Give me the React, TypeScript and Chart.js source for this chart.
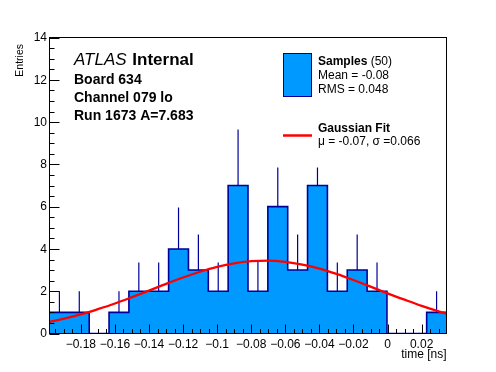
import React, { useEffect, useRef } from "react";
import { Chart, registerables } from "chart.js";

Chart.register(...registerables);

// ---- data ----
const xMin = -0.1984;
const xMax = 0.0346;
const binCounts = [1, 1, 0, 1, 2, 2, 4, 3, 2, 7, 2, 6, 3, 7, 2, 3, 2, 0, 0, 1];
const errUpper = [2, 2, 0, 2, 3.36, 3.36, 5.96, 4.68, 3.36, 9.65, 3.39, 7.85, 4.68, 7.85, 3.36, 4.68, 3.36, 0, 0, 2];
const fitX = [-0.1984, -0.19, -0.18, -0.17, -0.16, -0.15, -0.14, -0.13, -0.12, -0.11, -0.1, -0.09, -0.08, -0.07, -0.06, -0.05, -0.04, -0.03, -0.02, -0.01, 0, 0.01, 0.02, 0.03, 0.0346];
const fitY = [0.55, 0.7, 0.9, 1.15, 1.42, 1.72, 2.03, 2.35, 2.65, 2.92, 3.15, 3.32, 3.42, 3.45, 3.39, 3.26, 3.07, 2.82, 2.53, 2.22, 1.9, 1.6, 1.31, 1.05, 0.94];
const xTickValues = [-0.18, -0.16, -0.14, -0.12, -0.1, -0.08, -0.06, -0.04, -0.02, 0, 0.02];
const xTickLabels = ["\u22120.18", "\u22120.16", "\u22120.14", "\u22120.12", "\u22120.1", "\u22120.08", "\u22120.06", "\u22120.04", "\u22120.02", "0", "0.02"];
const yTickValues = [0, 2, 4, 6, 8, 10, 12, 14];
const yTickLabels = ["0", "2", "4", "6", "8", "10", "12", "14"];
const xMinorStep = 0.005;
const yMinorStep = 0.5;
const infoLines = ["Board 634", "Channel 079 lo", "Run 1673 A=7.683"];
const statLines = ["Mean = -0.08", "RMS = 0.048"];
const fitLine = "\u03bc = -0.07, \u03c3 =0.066";

const FILL = "#0099ff";
const NAVY = "#000099";
const RED = "#ff0000";
const FONT = "'Liberation Sans', Arial, Helvetica, sans-serif";

export default function App() {
  const ref = useRef<HTMLCanvasElement | null>(null);

  useEffect(() => {
    const canvas = ref.current;
    if (!canvas) return;
    const nb = binCounts.length;
    const w = (xMax - xMin) / nb;
    const histPts: { x: number; y: number }[] = [];
    binCounts.forEach((n, i) => {
      histPts.push({ x: xMin + i * w, y: n });
      histPts.push({ x: xMin + (i + 1) * w, y: n });
    });
    const errPts: ({ x: number; y: number | null })[] = [];
    binCounts.forEach((n, i) => {
      if (n <= 0) return;
      const c = xMin + (i + 0.5) * w;
      errPts.push({ x: c, y: n });
      errPts.push({ x: c, y: errUpper[i] });
      errPts.push({ x: c, y: null });
    });
    const fitPts = fitX.map((x, i) => ({ x, y: fitY[i] }));

    const decor = {
      id: "rootDecor",
      afterDraw(chart: any) {
        const ctx = chart.ctx as CanvasRenderingContext2D;
        const ca = chart.chartArea;
        const xs = chart.scales.x;
        const ys = chart.scales.y;
        ctx.save();
        // frame
        ctx.strokeStyle = "#000";
        ctx.lineWidth = 1;
        ctx.strokeRect(ca.left, ca.top, ca.right - ca.left, ca.bottom - ca.top);
        // y ticks
        ctx.beginPath();
        const nY = Math.round((ys.max - ys.min) / yMinorStep);
        for (let k = 0; k <= nY; k++) {
          const v = ys.min + k * yMinorStep;
          const py = Math.round(ys.getPixelForValue(v)) + 0.5;
          const major = Math.abs(v / 2 - Math.round(v / 2)) < 1e-6;
          ctx.moveTo(ca.left, py);
          ctx.lineTo(ca.left + (major ? 10 : 5), py);
        }
        // x ticks
        const kStart = Math.ceil(xs.min / xMinorStep - 1e-6);
        const kEnd = Math.floor(xs.max / xMinorStep + 1e-6);
        for (let k = kStart; k <= kEnd; k++) {
          const v = k * xMinorStep;
          const px = Math.round(xs.getPixelForValue(v)) + 0.5;
          const major = k % 4 === 0;
          ctx.moveTo(px, ca.bottom);
          ctx.lineTo(px, ca.bottom - (major ? 9 : 4.5));
        }
        ctx.stroke();
        // tick labels
        ctx.fillStyle = "#000";
        ctx.font = `12px ${FONT}`;
        ctx.textAlign = "right";
        ctx.textBaseline = "middle";
        yTickValues.forEach((v, i) => {
          ctx.fillText(yTickLabels[i], ca.left - 2.5, ys.getPixelForValue(v) + 0.5);
        });
        ctx.textAlign = "center";
        ctx.textBaseline = "alphabetic";
        xTickValues.forEach((v, i) => {
          ctx.fillText(xTickLabels[i], xs.getPixelForValue(v), 347.5);
        });
        // axis titles
        ctx.textAlign = "right";
        ctx.fillText("time [ns]", ca.right, 358);
        ctx.save();
        ctx.translate(23, 44);
        ctx.rotate(-Math.PI / 2);
        ctx.textAlign = "right";
        ctx.font = `10.5px ${FONT}`;
        ctx.fillText("Entries", 0, 0);
        ctx.restore();
        // ATLAS label
        ctx.textAlign = "left";
        ctx.font = `italic 17px ${FONT}`;
        ctx.fillText("ATLAS", 74, 65);
        const aw = ctx.measureText("ATLAS ").width;
        ctx.font = `bold 17px ${FONT}`;
        ctx.fillText("Internal", 74 + aw + 1, 65);
        ctx.font = `bold 14px ${FONT}`;
        infoLines.forEach((t, i) => ctx.fillText(t, 74, 83.5 + i * 18.3));
        // legend
        ctx.fillStyle = FILL;
        ctx.fillRect(283.5, 53.5, 28, 43);
        ctx.strokeStyle = NAVY;
        ctx.lineWidth = 1;
        ctx.strokeRect(283.5, 53.5, 28, 43);
        ctx.fillStyle = "#000";
        ctx.font = `bold 12px ${FONT}`;
        ctx.fillText("Samples", 318, 65);
        const sw = ctx.measureText("Samples").width;
        ctx.font = `12px ${FONT}`;
        ctx.fillText(" (50)", 318 + sw, 65);
        statLines.forEach((t, i) => ctx.fillText(t, 318, 79.3 + i * 14));
        ctx.strokeStyle = RED;
        ctx.lineWidth = 2.5;
        ctx.beginPath();
        ctx.moveTo(283, 135.5);
        ctx.lineTo(312, 135.5);
        ctx.stroke();
        ctx.font = `bold 12px ${FONT}`;
        ctx.fillText("Gaussian Fit", 318, 132.3);
        ctx.font = `12px ${FONT}`;
        ctx.fillText(fitLine, 318, 145);
        ctx.restore();
      },
    };

    const chart = new Chart(canvas, {
      type: "line",
      data: {
        datasets: [
          {
            label: "Gaussian Fit",
            data: fitPts,
            borderColor: RED,
            borderWidth: 2.3,
            pointRadius: 0,
            fill: false,
            cubicInterpolationMode: "monotone",
            order: 0,
          } as any,
          {
            label: "errors",
            data: errPts,
            borderColor: NAVY,
            borderWidth: 1.2,
            pointRadius: 0,
            fill: false,
            spanGaps: false,
            order: 1,
          } as any,
          {
            label: "Samples",
            data: histPts,
            borderColor: NAVY,
            backgroundColor: FILL,
            borderWidth: 1.6,
            pointRadius: 0,
            fill: "origin",
            tension: 0,
            order: 2,
          } as any,
        ],
      },
      options: {
        animation: false,
        responsive: false,
        devicePixelRatio: 1,
        events: [],
        layout: { padding: { left: 49.5, top: 37.5, right: 49.5, bottom: 38.5 } },
        plugins: { legend: { display: false }, tooltip: { enabled: false } },
        scales: {
          x: { type: "linear", min: xMin, max: xMax, display: false },
          y: { type: "linear", min: 0, max: 14, display: false },
        },
      } as any,
      plugins: [decor],
    });
    return () => chart.destroy();
  }, []);

  return (
    <div style={{ position: "fixed", left: 0, top: 0, width: 496, height: 372, background: "#fff" }}>
      <canvas ref={ref} width={496} height={372} style={{ width: 496, height: 372, display: "block" }} />
    </div>
  );
}
